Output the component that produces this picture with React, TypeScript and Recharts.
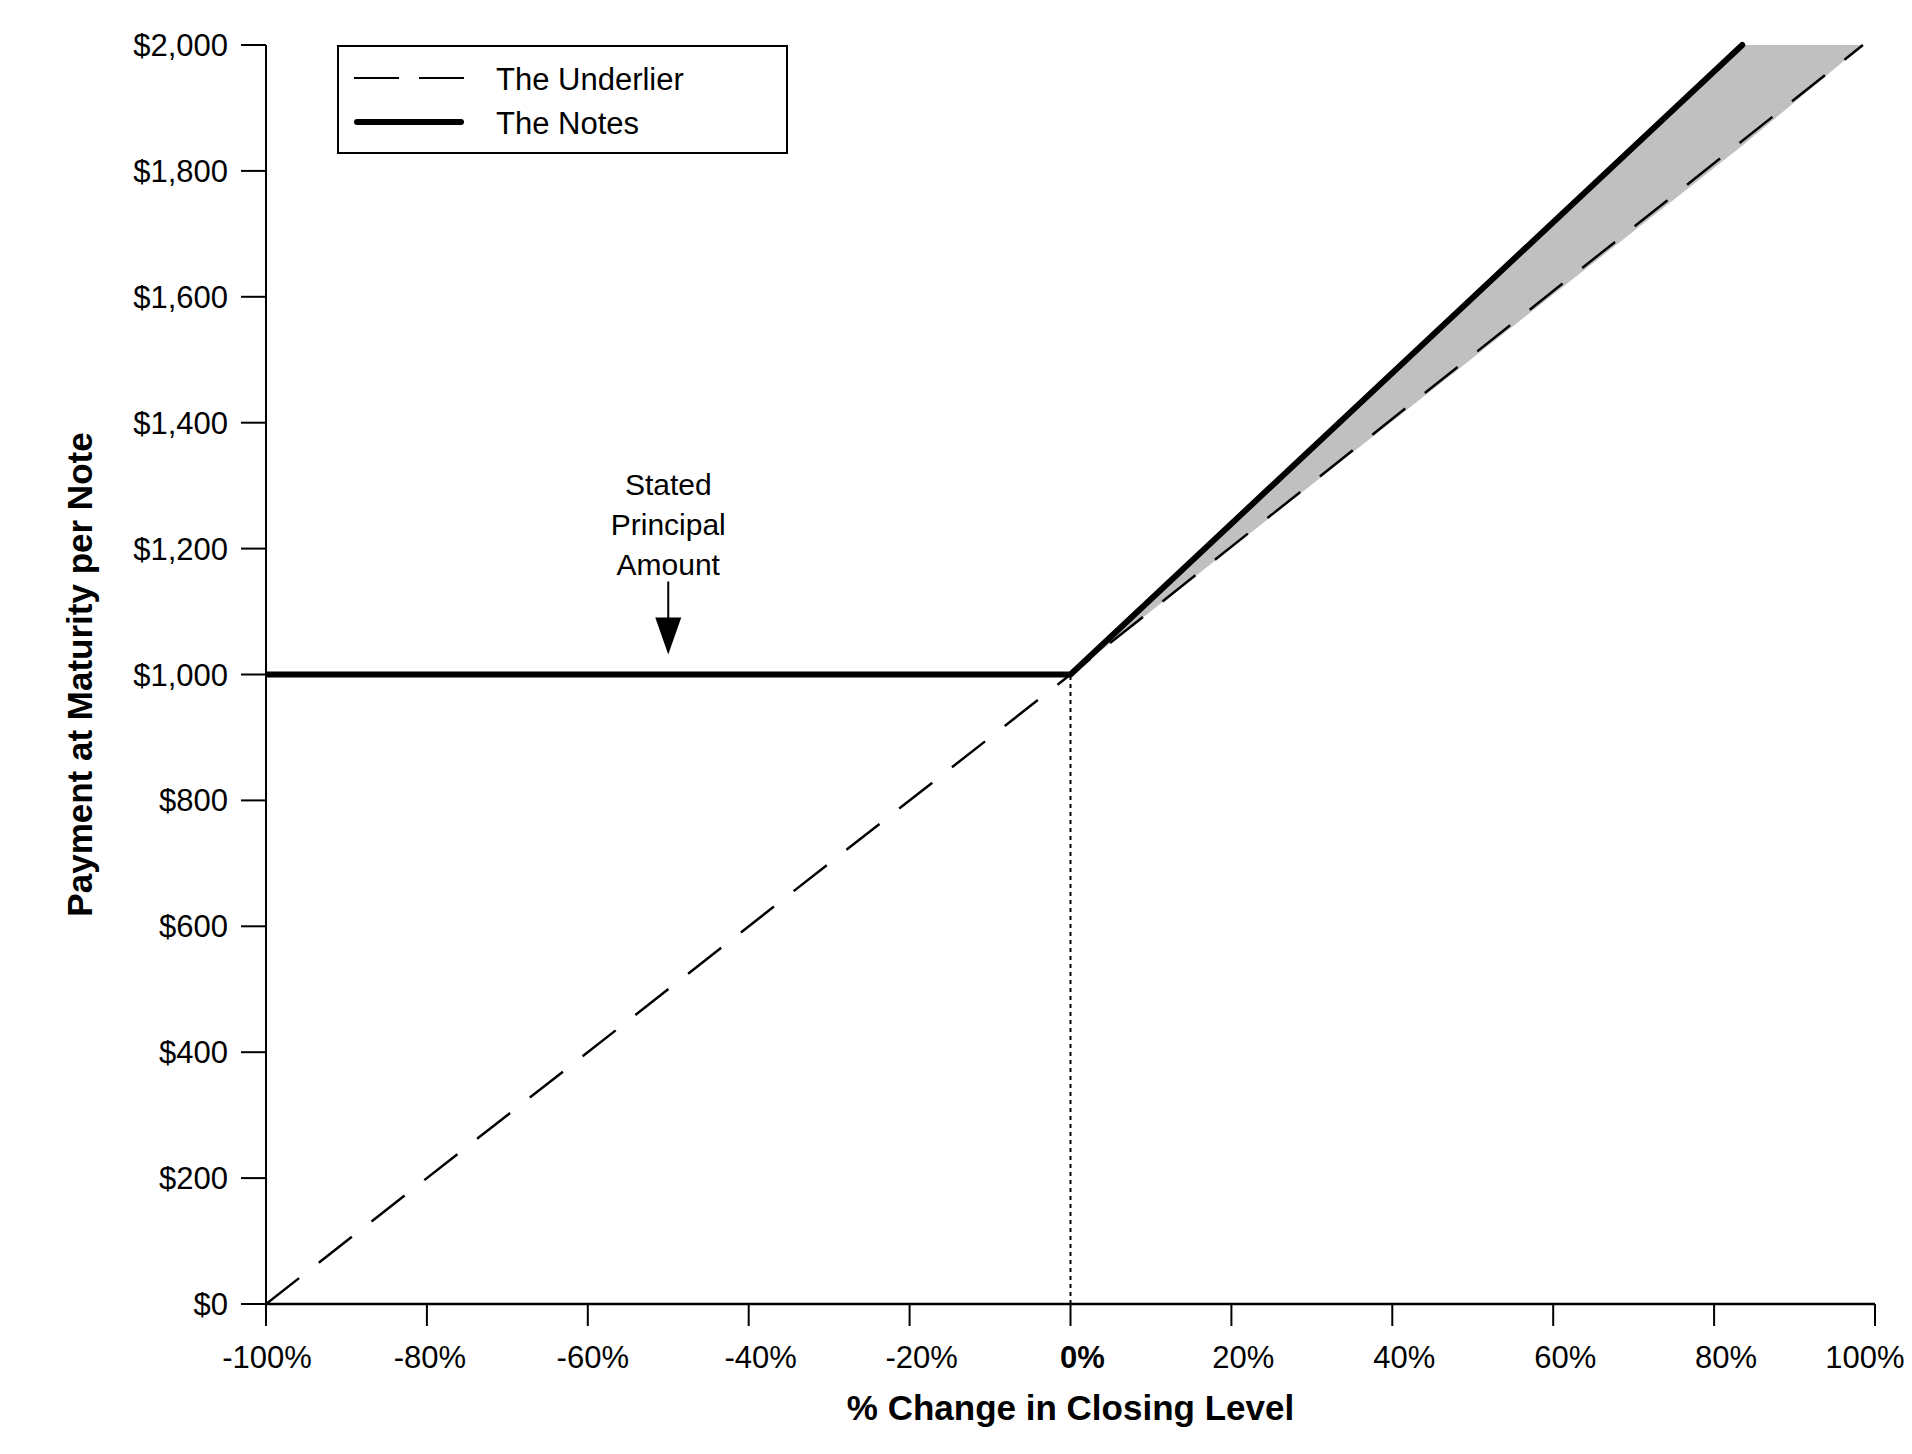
import React from 'react';
import { ComposedChart, Line, Area, XAxis, YAxis, ReferenceLine, ReferenceDot, Legend } from 'recharts';

const pctTicks = [-100, -80, -60, -40, -20, 0, 20, 40, 60, 80, 100];
const dollarTicks = [0, 200, 400, 600, 800, 1000, 1200, 1400, 1600, 1800, 2000];

// underlier: dashed line, notes: thick line (payment per $1,000 note)
const underlierPct = [-100, 0, 98.5];
const underlierPay = [0, 1000, 2000];
const notesPct = [-100, 0, 83.5];
const notesPay = [1000, 1000, 2000];

// shaded gap between the notes and the underlier
const bandPct = [0, 83.5, 98.5];
const bandLow = [1000, 1840, 2000];
const bandHigh = [1000, 2000, 2000];

const seriesNames = ['The Underlier', 'The Notes'];
const annotationLines = ['Stated', 'Principal', 'Amount'];
const xTitle = '% Change in Closing Level';
const yTitle = 'Payment at Maturity per Note';

const FONT = '"Liberation Sans", Arial, sans-serif';

const underlierData = underlierPct.map((x, i) => ({ x, underlier: underlierPay[i] }));
const notesData = notesPct.map((x, i) => ({ x, notes: notesPay[i] }));
const bandData = bandPct.map((x, i) => ({ x, band: [bandLow[i], bandHigh[i]] }));

const fmtDollar = (v: number) => '$' + v.toLocaleString('en-US');

// the original labels sit a little right of their ticks, the ends pulled in
const tickNudge = (v: number) => {
  if (v === -100) return 1;
  if (v === -80) return 3;
  if (v === -60) return 5;
  if (v === 100) return -10;
  return 12;
};

const XTick = ({ x, y, payload }: any) => (
  <text
    x={x + tickNudge(payload.value)}
    y={y}
    dy={22}
    textAnchor="middle"
    fontSize={31}
    fontWeight={payload.value === 0 ? 'bold' : 'normal'}
    fill="#000"
  >
    {payload.value}%
  </text>
);

const YTitle = ({ viewBox }: any) => {
  const cx = 92;
  const cy = viewBox.y + viewBox.height / 2;
  return (
    <text
      x={cx}
      y={cy}
      transform={`rotate(-90, ${cx}, ${cy})`}
      textAnchor="middle"
      fontSize={35}
      fontWeight="bold"
      fill="#000"
    >
      {yTitle}
    </text>
  );
};

const StatedPrincipalMarker = ({ cx, cy }: any) => (
  <g>
    {annotationLines.map((t, i) => (
      <text key={t} x={cx} y={cy - 180 + i * 40} textAnchor="middle" fontSize={30} fill="#000">
        {t}
      </text>
    ))}
    <line x1={cx} x2={cx} y1={cy - 93} y2={cy - 54} stroke="#000" strokeWidth={2} />
    <polygon points={`${cx - 13},${cy - 57} ${cx + 13},${cy - 57} ${cx},${cy - 20}`} fill="#000" />
  </g>
);

const renderLegend = () => (
  <svg width={451} height={109} style={{ display: 'block' }}>
    <rect x={1} y={1} width={449} height={107} fill="#fff" stroke="#000" strokeWidth={2} />
    <line x1={17} x2={127} y1={33} y2={33} stroke="#000" strokeWidth={2} strokeDasharray="45 20" />
    <text x={159} y={34} dominantBaseline="central" fontSize={31} fill="#000" fontFamily={FONT}>
      {seriesNames[0]}
    </text>
    <line x1={20} x2={124} y1={77} y2={77} stroke="#000" strokeWidth={6} strokeLinecap="round" />
    <text x={159} y={78} dominantBaseline="central" fontSize={31} fill="#000" fontFamily={FONT}>
      {seriesNames[1]}
    </text>
  </svg>
);

export default function App() {
  return (
    <div style={{ position: 'absolute', left: 0, top: 0, fontFamily: FONT, background: '#fff' }}>
      <ComposedChart width={1912} height={1454} margin={{ top: 45, right: 37, bottom: 30, left: 106 }}>
        <XAxis
          type="number"
          dataKey="x"
          domain={[-100, 100]}
          ticks={pctTicks}
          allowDataOverflow
          height={120}
          tickSize={22}
          tickMargin={20}
          tick={<XTick />}
          axisLine={{ stroke: '#000', strokeWidth: 2.5 }}
          tickLine={{ stroke: '#000', strokeWidth: 2 }}
          label={{ value: xTitle, position: 'insideBottom', offset: 4, fontSize: 35, fontWeight: 'bold', fill: '#000' }}
        />
        <YAxis
          type="number"
          domain={[0, 2000]}
          ticks={dollarTicks}
          width={160}
          tickSize={25}
          tickMargin={13}
          tickFormatter={fmtDollar}
          tick={{ fontSize: 31, fill: '#000' }}
          axisLine={{ stroke: '#000', strokeWidth: 2 }}
          tickLine={{ stroke: '#000', strokeWidth: 2 }}
          label={{ content: <YTitle /> }}
        />
        <Legend
          layout="vertical"
          align="center"
          verticalAlign="middle"
          content={renderLegend}
          wrapperStyle={{ left: 337, top: 45, width: 451, height: 109 }}
        />
        <Area
          data={bandData}
          dataKey="band"
          type="linear"
          fill="#c0c0c0"
          fillOpacity={1}
          stroke="none"
          legendType="none"
          isAnimationActive={false}
        />
        <ReferenceLine
          segment={[{ x: 0, y: 0 }, { x: 0, y: 1000 }]}
          stroke="#000"
          strokeWidth={2}
          strokeDasharray="4 4"
        />
        <Line
          data={underlierData}
          dataKey="underlier"
          name={seriesNames[0]}
          type="linear"
          stroke="#000"
          strokeWidth={2.5}
          strokeDasharray="42 25"
          dot={false}
          activeDot={false}
          isAnimationActive={false}
        />
        <Line
          data={notesData}
          dataKey="notes"
          name={seriesNames[1]}
          type="linear"
          stroke="#000"
          strokeWidth={6}
          strokeLinecap="round"
          strokeLinejoin="round"
          dot={false}
          activeDot={false}
          isAnimationActive={false}
        />
        <ReferenceDot x={-50} y={1000} ifOverflow="visible" shape={<StatedPrincipalMarker />} />
      </ComposedChart>
    </div>
  );
}
